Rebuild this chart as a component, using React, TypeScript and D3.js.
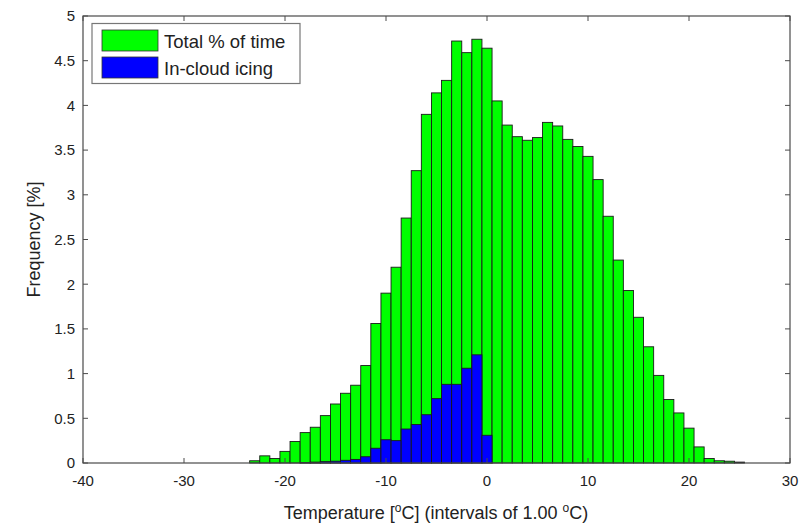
import React from "react";
import * as d3 from "d3";

// Temperature bin centres (°C), 1 °C wide bins
const binCentres: number[] = [
  -23, -22, -21, -20, -19, -18, -17, -16, -15, -14, -13, -12, -11, -10, -9, -8,
  -7, -6, -5, -4, -3, -2, -1, 0, 1, 2, 3, 4, 5, 6, 7, 8, 9, 10, 11, 12, 13, 14,
  15, 16, 17, 18, 19, 20, 21, 22, 23, 24, 25,
];

// Total % of time spent in each temperature bin
const totalPct: number[] = [
  0.025, 0.08, 0.05, 0.13, 0.24, 0.34, 0.4, 0.53, 0.66, 0.78, 0.87, 1.09, 1.56,
  1.9, 2.19, 2.74, 3.27, 3.9, 4.14, 4.28, 4.72, 4.59, 4.74, 4.64, 4.05, 3.78,
  3.65, 3.61, 3.64, 3.81, 3.77, 3.62, 3.54, 3.43, 3.17, 2.76, 2.27, 1.93, 1.63,
  1.3, 0.98, 0.71, 0.56, 0.39, 0.18, 0.05, 0.025, 0.02, 0.01,
];

// % of time with in-cloud icing in each temperature bin
const icingPct: number[] = [
  0, 0, 0, 0, 0, 0.005, 0.01, 0.015, 0.02, 0.03, 0.04, 0.07, 0.165, 0.26, 0.25,
  0.38, 0.43, 0.54, 0.72, 0.88, 0.88, 1.06, 1.21, 0.31, 0, 0, 0, 0, 0, 0, 0, 0,
  0, 0, 0, 0, 0, 0, 0, 0, 0, 0, 0, 0, 0, 0, 0, 0, 0,
];

const xTicks: number[] = [-40, -30, -20, -10, 0, 10, 20, 30];
const yTicks: number[] = [0, 0.5, 1, 1.5, 2, 2.5, 3, 3.5, 4, 4.5, 5];
const yTickLabels: string[] = ["0", "0.5", "1", "1.5", "2", "2.5", "3", "3.5", "4", "4.5", "5"];

const seriesNames: string[] = ["Total % of time", "In-cloud icing"];
const seriesColors: string[] = ["#00ff00", "#0000ff"];

const W = 802;
const H = 523;
const plot = { left: 83, right: 790, top: 16, bottom: 463 };
const FONT = "'Liberation Sans', Arial, Helvetica, sans-serif";
const AXIS = "#4a4a4a";
const TEXT = "#222";
const TICK_FS = 15;
const TITLE_FS = 18;
const LEGEND_FS = 18.5;

export default function App() {
  const x = d3.scaleLinear().domain([-40, 30]).range([plot.left, plot.right]);
  const y = d3.scaleLinear().domain([0, 5]).range([plot.bottom, plot.top]);
  const tick = 5;

  const bars = (values: number[], color: string, key: string) =>
    binCentres.map((c, i) => {
      const v = values[i];
      if (!v) return null;
      const x0 = x(c - 0.5);
      const x1 = x(c + 0.5);
      return (
        <rect
          key={key + i}
          x={x0}
          y={y(v)}
          width={x1 - x0}
          height={y(0) - y(v)}
          fill={color}
          stroke="#1a1a1a"
          strokeWidth={0.9}
        />
      );
    });

  return (
    <svg
      width={W}
      height={H}
      style={{ position: "absolute", left: 0, top: 0, background: "#fff" }}
      fontFamily={FONT}
    >
      {bars(totalPct, seriesColors[0], "t")}
      {bars(icingPct, seriesColors[1], "i")}

      {/* frame */}
      <rect
        x={plot.left}
        y={plot.top}
        width={plot.right - plot.left}
        height={plot.bottom - plot.top}
        fill="none"
        stroke={AXIS}
        strokeWidth={1.2}
      />

      {/* x ticks (bottom and top, inward) */}
      {xTicks.map((t) => (
        <g key={"xt" + t}>
          <line x1={x(t)} x2={x(t)} y1={plot.bottom} y2={plot.bottom - tick} stroke={AXIS} />
          <line x1={x(t)} x2={x(t)} y1={plot.top} y2={plot.top + tick} stroke={AXIS} />
          <text x={x(t)} y={485.5} textAnchor="middle" fontSize={TICK_FS} fill={TEXT}>
            {t}
          </text>
        </g>
      ))}

      {/* y ticks (left and right, inward) */}
      {yTicks.map((t, i) => (
        <g key={"yt" + t}>
          <line x1={plot.left} x2={plot.left + tick} y1={y(t)} y2={y(t)} stroke={AXIS} />
          <line x1={plot.right} x2={plot.right - tick} y1={y(t)} y2={y(t)} stroke={AXIS} />
          <text x={75} y={y(t) + 5.3} textAnchor="end" fontSize={TICK_FS} fill={TEXT}>
            {yTickLabels[i]}
          </text>
        </g>
      ))}

      {/* axis titles */}
      <text x={436} y={519} textAnchor="middle" fontSize={TITLE_FS} fill={TEXT}>
        Temperature [<tspan dy={-7} fontSize={12}>o</tspan>
        <tspan dy={7}>C] (intervals of 1.00 </tspan>
        <tspan dy={-7} fontSize={12}>o</tspan>
        <tspan dy={7}>C)</tspan>
      </text>
      <text
        transform={`translate(40,${(plot.top + plot.bottom) / 2}) rotate(-90)`}
        textAnchor="middle"
        fontSize={TITLE_FS}
        fill={TEXT}
      >
        Frequency [%]
      </text>

      {/* legend */}
      <g>
        <rect x={92} y={23.5} width={208} height={60} fill="#fff" stroke="#777" strokeWidth={1.2} />
        {seriesNames.map((name, i) => (
          <g key={name}>
            <rect
              x={102}
              y={30 + i * 27}
              width={56}
              height={21}
              fill={seriesColors[i]}
              stroke="#333"
              strokeWidth={0.8}
            />
            <text x={164} y={47.5 + i * 27} fontSize={LEGEND_FS} fill={TEXT}>
              {name}
            </text>
          </g>
        ))}
      </g>
    </svg>
  );
}
